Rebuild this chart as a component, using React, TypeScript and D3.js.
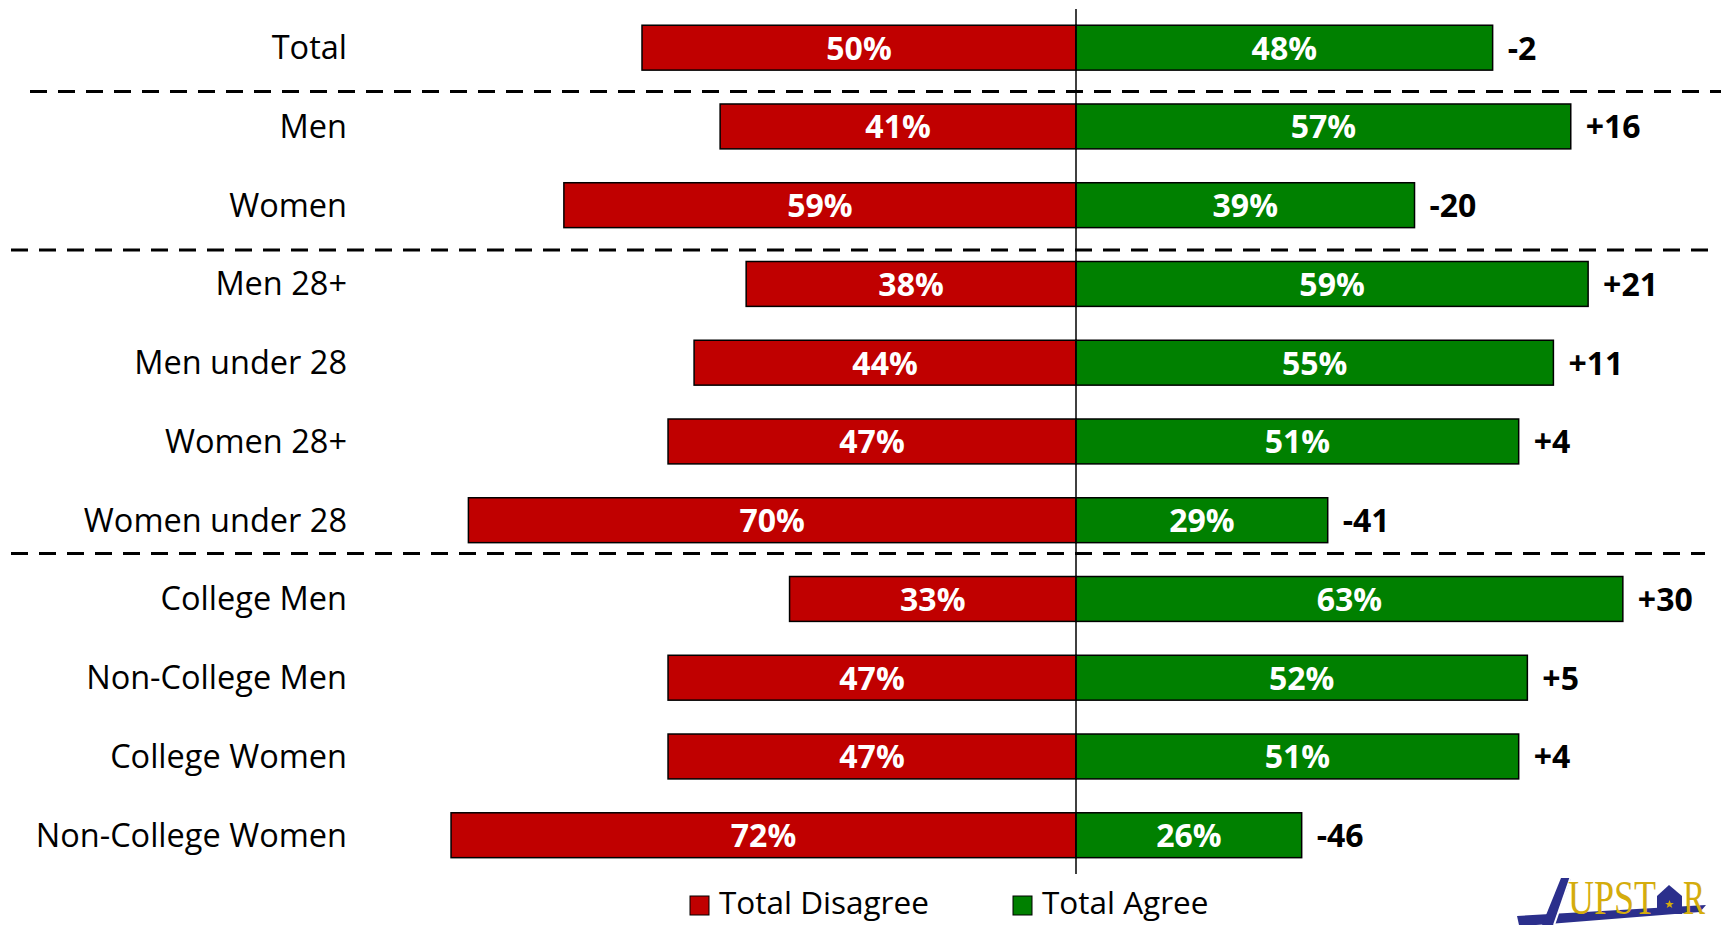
import React, { useMemo } from 'react'
import * as d3 from 'd3'

const WIDTH = 1721
const HEIGHT = 925
const AXIS_X = 1076
const PX_PER_PCT = 8.68

const categories = [
  'Total',
  'Men',
  'Women',
  'Men 28+',
  'Men under 28',
  'Women 28+',
  'Women under 28',
  'College Men',
  'Non-College Men',
  'College Women',
  'Non-College Women',
]
const disagree = [50, 41, 59, 38, 44, 47, 70, 33, 47, 47, 72]
const agree = [48, 57, 39, 59, 55, 51, 29, 63, 52, 51, 26]
// dashed separator goes below these rows
const groupEnds = [0, 2, 6]
const separatorExtent = [
  [30, 1721],
  [11, 1712],
  [11, 1705],
]
// the separators are not exactly centred in the gap
const separatorShift = [4.5, 5.5, -6]

const RED = '#C00000'
const GREEN = '#008000'
const FONT = '"Open Sans", "Noto Sans", sans-serif'
const LABEL_SIZE = 32.5
const VALUE_SIZE = 32
const LEGEND_SIZE = 31.5

function Logo() {
  return (
    <g>
      <polygon points="1517,916 1706,905 1700,912 1536,925 1519,925" fill="#2B2F8C" />
      <polygon points="1561,878 1571,878 1554,925 1542,925" fill="#2B2F8C" />
      <line x1="1571" y1="876" x2="1554" y2="925" stroke="#fff" strokeWidth="2" />
      <text x="1568" y="914" fontFamily='"Liberation Serif", serif' fontSize="48" fill="#D4AC0D" textLength="88" lengthAdjust="spacingAndGlyphs">UPST</text>
      <polygon points="1657,896 1669,885 1682,896 1682,914 1657,914" fill="#2B2F8C" />
      <path d="M1669.5,900 l1.2,3 3.2,0 -2.6,2 1,3 -2.8,-1.8 -2.8,1.8 1,-3 -2.6,-2 3.2,0z" fill="#D4AC0D" />
      <text x="1683" y="914" fontFamily='"Liberation Serif", serif' fontSize="48" fill="#D4AC0D" textLength="22" lengthAdjust="spacingAndGlyphs">R</text>
    </g>
  )
}

export default function App() {
  const yScale = useMemo(() => {
    return d3
      .scaleBand<string>()
      .domain(categories)
      .range([8.3, 874.6])
      .paddingInner(0.43)
      .paddingOuter(0.215)
  }, [])

  const xScale = useMemo(() => {
    return d3
      .scaleLinear()
      .domain([-100, 100])
      .range([AXIS_X - 100 * PX_PER_PCT, AXIS_X + 100 * PX_PER_PCT])
  }, [])

  const bw = yScale.bandwidth()

  const rows = categories.map((cat, i) => {
    const y = yScale(cat) || 0
    const cy = y + bw / 2
    const net = agree[i] - disagree[i]
    const netLabel = net > 0 ? '+' + net : '' + net
    const x0 = xScale(0)
    const xl = xScale(-disagree[i])
    const xr = xScale(agree[i])
    return (
      <g key={cat}>
        <text x={347} y={cy} dy="0.35em" textAnchor="end" fontFamily={FONT} fontSize={LABEL_SIZE} fill="#000">
          {cat}
        </text>
        <rect x={xl} y={y} width={x0 - xl} height={bw} fill={RED} stroke="#000" strokeWidth={1.5} />
        <rect x={x0} y={y} width={xr - x0} height={bw} fill={GREEN} stroke="#000" strokeWidth={1.5} />
        <text x={(xl + x0) / 2} y={cy} dy="0.37em" textAnchor="middle" fontFamily={FONT} fontWeight="bold" fontSize={VALUE_SIZE} fill="#fff">
          {disagree[i] + '%'}
        </text>
        <text x={(xr + x0) / 2} y={cy} dy="0.37em" textAnchor="middle" fontFamily={FONT} fontWeight="bold" fontSize={VALUE_SIZE} fill="#fff">
          {agree[i] + '%'}
        </text>
        <text x={xr + 15} y={cy} dy="0.37em" fontFamily={FONT} fontWeight="bold" fontSize={VALUE_SIZE} fill="#000">
          {netLabel}
        </text>
      </g>
    )
  })

  const separators = groupEnds.map((idx, k) => {
    const yA = (yScale(categories[idx]) || 0) + bw
    const yB = yScale(categories[idx + 1]) || 0
    const yy = (yA + yB) / 2 + separatorShift[k]
    return (
      <line
        key={k}
        x1={separatorExtent[k][0]}
        x2={separatorExtent[k][1]}
        y1={yy}
        y2={yy}
        stroke="#000"
        strokeWidth={3}
        strokeDasharray="17 11"
      />
    )
  })

  return (
    <svg width={WIDTH} height={HEIGHT} style={{ position: 'absolute', left: 0, top: 0, background: '#fff' }}>
      {separators}
      {rows}
      <line x1={AXIS_X} x2={AXIS_X} y1={9} y2={874} stroke="#000" strokeWidth={1.5} />
      <g>
        <rect x={690} y={896} width={19} height={19} fill={RED} stroke="#000" strokeWidth={1} />
        <text x={719} y={903} dy="0.36em" fontFamily={FONT} fontSize={LEGEND_SIZE} fill="#000">Total Disagree</text>
        <rect x={1013} y={896} width={19} height={19} fill={GREEN} stroke="#000" strokeWidth={1} />
        <text x={1042} y={903} dy="0.36em" fontFamily={FONT} fontSize={LEGEND_SIZE} fill="#000">Total Agree</text>
      </g>
      <Logo />
    </svg>
  )
}
